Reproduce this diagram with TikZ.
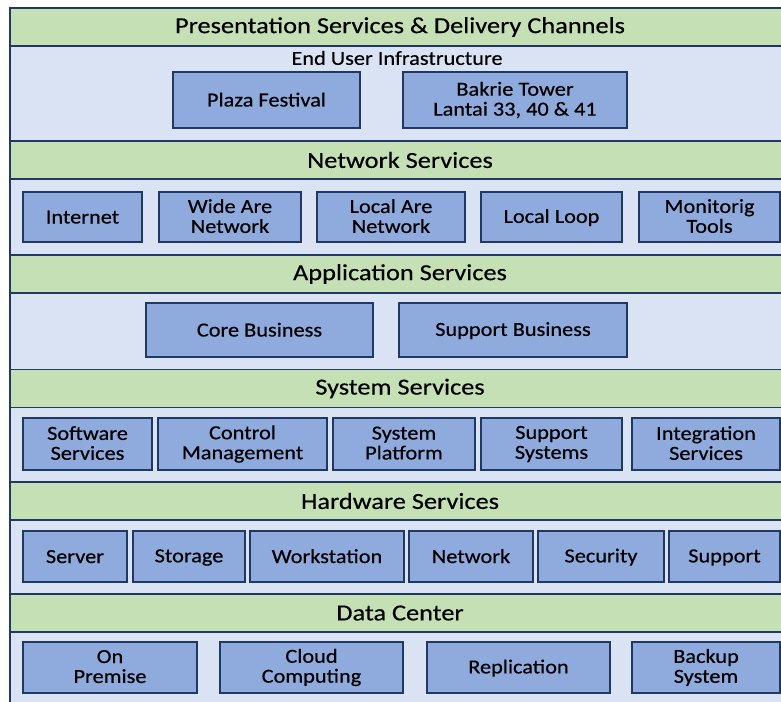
\documentclass[tikz,border=0pt]{standalone}
\usepackage{fontspec}
\setmainfont{Carlito}
\newfontfamily\headfont[FakeStretch=1.15, FakeBold=0.4]{Carlito}
\newfontfamily\unitfont[FakeStretch=1.12, FakeBold=0.4]{Carlito}
\usetikzlibrary{positioning}
\definecolor{inknavy}{HTML}{1F3864}
\definecolor{bandgreen}{HTML}{C5E0B4}
\definecolor{bandblue}{HTML}{DAE3F3}
\definecolor{boxblue}{HTML}{8FAADC}
\begin{document}
\begin{tikzpicture}[x=1bp, y=-1bp,
  head/.style={draw=inknavy, line width=1.6bp, fill=bandgreen, minimum width=780bp, minimum height=38bp, inner sep=0pt, font=\headfont\fontsize{23}{24}\selectfont},
  layer/.style={draw=inknavy, line width=1.6bp, fill=bandblue, minimum width=780bp, inner sep=0pt},
  unit/.style={draw=inknavy, line width=1.6bp, fill=boxblue, inner sep=0pt, align=center, font=\unitfont\fontsize{20}{20}\selectfont,
    execute at begin node={\rule{0pt}{15bp}}, execute at end node={\rule[-2bp]{0pt}{2bp}}}]
\clip (0,0) rectangle (781,702);
\node[layer, minimum height=95bp] (l1) at (400,93.5) {};
\node[layer, minimum height=76bp] (l2) at (400,217) {};
\node[layer, minimum height=77bp] (l3) at (400,331.5) {};
\node[layer, minimum height=75bp] (l4) at (400,444.5) {};
\node[layer, minimum height=74bp] (l5) at (400,557) {};
\node[layer, minimum height=80bp] (l6) at (400,672) {};
\node[head] (h1) at (400,27)  {Presentation Services \& Delivery Channels};
\node[head] (h2) at (400,160) {Network Services};
\node[head] (h3) at (400,274) {Application Services};
\node[head] (h4) at (400,388.5) {System Services};
\node[head] (h5) at (400,501) {Hardware Services};
\node[head] (h6) at (400,613) {Data Center};
\node[font=\unitfont\fontsize{20}{20}\selectfont, inner sep=0pt] (eu) at (397,58) {End User Infrastructure};
\node[unit, minimum width=187bp, minimum height=56bp] (pf) at (266.5,100) {Plaza Festival};
\node[unit, minimum width=224bp, minimum height=56bp] (bt) at (515,100) {Bakrie Tower\\Lantai 33, 40 \& 41};
\node[unit, minimum width=119bp, minimum height=50bp] (inet) at (82.5,217) {Internet};
\node[unit, minimum width=142bp, minimum height=50bp] (wan) at (230,217) {Wide Are\\Network};
\node[unit, minimum width=148bp, minimum height=50bp] (lan) at (391,217) {Local Are\\Network};
\node[unit, minimum width=141bp, minimum height=50bp] (loop) at (551.5,217) {Local Loop};
\node[unit, minimum width=141bp, minimum height=50bp] (mon) at (709.5,217) {Monitorig\\Tools};
\node[unit, minimum width=227bp, minimum height=54bp] (core) at (259.5,330) {Core Business};
\node[unit, minimum width=228bp, minimum height=54bp] (supb) at (513,330) {Support Business};
\node[unit, minimum width=129bp, minimum height=52bp] (sws) at (87.5,444) {Software\\Services};
\node[unit, minimum width=169bp, minimum height=52bp] (ctl) at (242.5,444) {Control\\Management};
\node[unit, minimum width=142bp, minimum height=52bp] (plat) at (404,444) {System\\Platform};
\node[unit, minimum width=141bp, minimum height=52bp] (sups) at (551.5,444) {Support\\Systems};
\node[unit, minimum width=148bp, minimum height=52bp] (intg) at (706,444) {Integration\\Services};
\node[unit, minimum width=104bp, minimum height=51bp] (srv) at (75,556.5) {Server};
\node[unit, minimum width=112bp, minimum height=51bp] (sto) at (189,556.5) {Storage};
\node[unit, minimum width=154bp, minimum height=51bp] (wks) at (327,556.5) {Workstation};
\node[unit, minimum width=124bp, minimum height=51bp] (netw) at (471,556.5) {Network};
\node[unit, minimum width=126bp, minimum height=51bp] (sec) at (601,556.5) {Security};
\node[unit, minimum width=111bp, minimum height=51bp] (sup) at (724.5,556.5) {Support};
\node[unit, minimum width=174bp, minimum height=51bp] (onp) at (110,667.5) {On\\Premise};
\node[unit, minimum width=183bp, minimum height=51bp] (cloud) at (311.5,667.5) {Cloud\\Computing};
\node[unit, minimum width=183bp, minimum height=51bp] (repl) at (518.5,667.5) {Replication};
\node[unit, minimum width=148bp, minimum height=51bp] (bkp) at (706,667.5) {Backup\\System};
\end{tikzpicture}
\end{document}
